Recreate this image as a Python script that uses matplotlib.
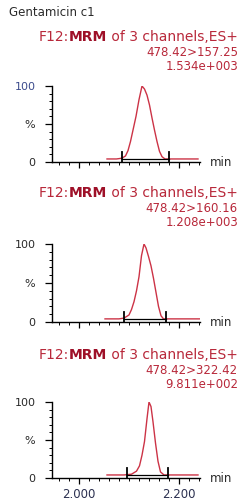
import matplotlib
matplotlib.use('Agg')
import matplotlib.pyplot as plt
from matplotlib.ticker import MultipleLocator, FixedLocator

# chart data
compound = 'Gentamicin c1'
scan_head = ['F12:', 'MRM', ' of 3 channels,ES+']
transitions = ['478.42>157.25', '478.42>160.16', '478.42>322.42']
base_peaks = ['1.534e+003', '1.208e+003', '9.811e+002']

t1 = [2.056, 2.075, 2.086, 2.093, 2.098, 2.103, 2.108, 2.114, 2.120, 2.126,
      2.131, 2.136, 2.141, 2.146, 2.151, 2.156, 2.161, 2.166, 2.172, 2.185, 2.210, 2.238]
i1 = [4, 4, 5, 8, 15, 27, 42, 60, 82, 100, 96, 88, 75, 58, 42, 27, 14, 7, 4, 4, 4, 4]

t2 = [2.052, 2.080, 2.090, 2.100, 2.105, 2.110, 2.115, 2.120, 2.125, 2.130,
      2.134, 2.139, 2.144, 2.149, 2.154, 2.159, 2.164, 2.169, 2.185, 2.242]
i2 = [4, 4, 5, 9, 16, 26, 40, 58, 85, 100, 95, 84, 72, 56, 38, 20, 8, 4, 4, 4]

t3 = [2.056, 2.090, 2.105, 2.115, 2.121, 2.126, 2.131, 2.136, 2.140, 2.144,
      2.148, 2.153, 2.158, 2.163, 2.170, 2.190, 2.238]
i3 = [4, 4, 5, 9, 16, 30, 48, 78, 100, 94, 74, 46, 22, 8, 4, 4, 4]

marks = [[2.086, 2.180], [2.090, 2.174], [2.096, 2.178]]
base_level = [4, 4, 4]

times = [t1, t2, t3]
intens = [i1, i2, i3]

W, H = 241, 504
fig = plt.figure(figsize=(W / 100, H / 100), dpi=100)
fig.patch.set_facecolor('white')

red = '#b8283a'
trace_red = '#cc3346'
grey = '#2a2a2a'

def fy(ypx):
    return 1 - ypx / H

def fx(xpx):
    return xpx / W

fig.text(fx(9), fy(13), compound, fontsize=8.5, color=grey, va='center', ha='left')

# axes bottom (0 %) and top (100 %) in pixels
zero_px = [162, 322, 478]
top_px = [86, 244, 402]
head_px = [37, 193, 355]

renderer = fig.canvas.get_renderer()
for k in range(3):
    bot = fy(zero_px[k])
    hgt = (zero_px[k] - top_px[k]) / H
    ax = fig.add_axes([fx(52), bot, fx(200) - fx(52), hgt])
    ax.plot(times[k], intens[k], color=trace_red, lw=1.0)
    # integration marks and baseline
    ax.plot(marks[k], [base_level[k]] * 2, color='black', lw=0.9)
    for m in marks[k]:
        ax.plot([m, m], [0, 13], color='black', lw=1.3)
    ax.set_xlim(1.946, 2.242)
    ax.set_ylim(0, 100)
    for s in ['top', 'right']:
        ax.spines[s].set_visible(False)
    for s in ['left', 'bottom']:
        ax.spines[s].set_linewidth(1.0)
        ax.spines[s].set_color('black')
    ax.yaxis.set_major_locator(FixedLocator([0, 50, 100]))
    ax.yaxis.set_minor_locator(MultipleLocator(10))
    ax.set_yticklabels(['0', '%', '100'])
    ax.xaxis.set_major_locator(FixedLocator([2.0, 2.2]))
    ax.xaxis.set_minor_locator(MultipleLocator(0.02))
    ax.tick_params(axis='y', which='major', length=5, width=0.9, labelsize=8, labelcolor=grey, pad=7)
    ax.tick_params(axis='y', which='minor', length=2.5, width=0.7)
    ax.tick_params(axis='x', which='major', length=4, width=0.9, labelsize=8.5, labelcolor='#2b3050', pad=3)
    ax.tick_params(axis='x', which='minor', length=2.5, width=0.7)
    if k == 2:
        ax.set_xticklabels(['2.000', '2.200'])
    else:
        ax.set_xticklabels([])
    if k == 0:
        ax.get_yticklabels()[2].set_color('#3b4b8c')
    fig.text(fx(210), bot, 'min', fontsize=8.5, color=grey, va='center', ha='left')

    # header: right aligned pieces, MRM in bold
    xr = fx(238)
    y0 = fy(head_px[k])
    t_tail = fig.text(xr, y0, scan_head[2], fontsize=10, color=red, ha='right', va='center')
    bb = t_tail.get_window_extent(renderer)
    t_mid = fig.text(bb.x0 / W, y0, scan_head[1], fontsize=10, color='#9e1028',
                     fontweight='bold', ha='right', va='center')
    bb2 = t_mid.get_window_extent(renderer)
    fig.text(bb2.x0 / W, y0, scan_head[0], fontsize=10, color=red, ha='right', va='center')
    fig.text(xr, fy(head_px[k] + 15), transitions[k], fontsize=8.5, color=red, ha='right', va='center')
    fig.text(xr, fy(head_px[k] + 29), base_peaks[k], fontsize=8.5, color=red, ha='right', va='center')

fig.savefig('out.png', dpi=100, facecolor='white')
